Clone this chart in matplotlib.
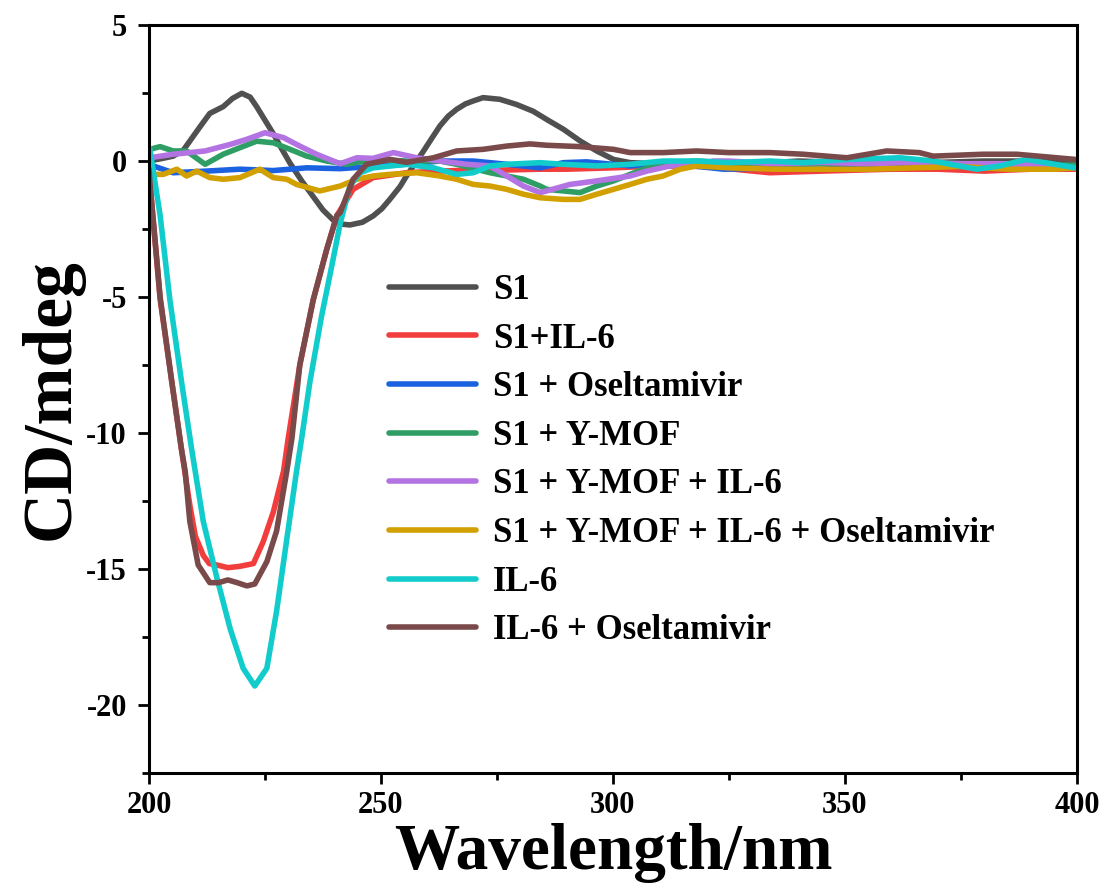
import numpy as np
import matplotlib
matplotlib.use("Agg")
import matplotlib.pyplot as plt
from matplotlib.ticker import MultipleLocator

plt.rcParams['font.family'] = ['Liberation Serif', 'DejaVu Serif']
plt.rcParams['font.weight'] = 'bold'
plt.rcParams['axes.unicode_minus'] = False

# CD spectra (wavelength nm, ellipticity mdeg)
s1_wl = [200, 203, 205.2, 207.4, 211, 213.1, 216, 218, 220, 221.8, 223.2, 225, 226.8, 228.6,
         230.4, 233, 235.4, 237.5, 239.7, 241.5, 243.3, 246, 248.3, 250.2, 251.9, 254.1,
         255.5, 257.3, 259.1, 261, 262.7, 264.5, 266.3, 268.2, 269.9, 272, 275.6, 279.2,
         282.8, 285.7, 289.3, 292.9, 296.5, 300.1, 303.7, 310, 320, 330, 340, 350, 360,
         370, 380, 390, 400]
s1_cd = [0.0, 0.1, 0.18, 0.4, 1.26, 1.75, 2.0, 2.3, 2.49, 2.35, 2.0, 1.5, 1.0, 0.45,
         -0.08, -0.75, -1.31, -1.8, -2.17, -2.32, -2.35, -2.25, -2.02, -1.75, -1.41, -0.94,
         -0.55, -0.1, 0.35, 0.85, 1.29, 1.65, 1.9, 2.1, 2.21, 2.33, 2.27, 2.08,
         1.83, 1.53, 1.17, 0.74, 0.37, 0.06, -0.06, -0.1, -0.05, -0.1, 0.0, -0.05, 0.0,
         -0.05, 0.0, 0.0, -0.05]

s1_il6_wl = [200, 200.2, 202.4, 204.9, 207, 208.8, 210, 211.7, 213, 214.6, 217, 219.6,
             222.5, 224.6, 226.8, 229, 230, 232.5, 235.4, 238.3, 240.5, 244, 248.3, 255.5,
             262.7, 270, 277, 284, 290, 300, 310, 320, 333.8, 345, 360, 370, 380, 390, 400]
s1_il6_cd = [-0.4, -0.8, -5.08, -8.1, -10.6, -12.65, -13.8, -14.5, -14.8, -14.85, -14.95,
             -14.9, -14.8, -14.0, -12.9, -11.4, -10.2, -7.5, -5.1, -3.25, -2.0, -1.04,
             -0.61, -0.43, -0.37, -0.33, -0.33, -0.3, -0.3, -0.25, -0.18, -0.2, -0.43,
             -0.37, -0.3, -0.3, -0.37, -0.3, -0.3]

s1_osel_wl = [200, 200.9, 205.2, 212.4, 219.6, 226.8, 230.4, 234, 241.2, 248, 255.5, 262.7,
              269.9, 277.1, 284.3, 289.3, 294.3, 303.7, 310.8, 323.8, 335, 345, 355, 365,
              375, 385, 395, 400]
s1_osel_cd = [-0.1, -0.18, -0.43, -0.37, -0.3, -0.35, -0.3, -0.25, -0.28, -0.2, -0.12, 0.0,
              0.0, -0.12, -0.25, -0.06, -0.03, -0.18, -0.06, -0.3, -0.25, -0.3, -0.2,
              -0.15, -0.2, -0.1, -0.15, -0.2]

s1_ymof_wl = [200, 200.2, 202.4, 205.2, 208.1, 212.1, 216, 219.6, 223.2, 226.8, 230.4, 234,
              238.3, 242.6, 248.3, 255.5, 262.7, 266.3, 273.5, 277.1, 280.7, 284.3, 285.7,
              292.9, 296.5, 300.1, 303.7, 307.3, 312.3, 318, 325, 335, 345, 355, 365, 375,
              385, 395, 400]
s1_ymof_cd = [0.3, 0.43, 0.53, 0.37, 0.37, -0.12, 0.25, 0.49, 0.73, 0.67, 0.43, 0.18, 0.0,
              -0.12, 0.06, 0.0, 0.0, -0.12, -0.43, -0.55, -0.67, -0.92, -1.04, -1.16, -0.92,
              -0.73, -0.49, -0.25, -0.06, 0.0, -0.06, -0.1, -0.1, -0.05, -0.05, -0.1, -0.1,
              -0.15, -0.15]

s1_ymof_il6_wl = [200, 200.2, 205.2, 208.8, 212.1, 217.5, 221.1, 225, 229, 232.5, 236.1,
                  241.2, 244.8, 248.3, 252.7, 257.7, 262.7, 268.5, 273.5, 277.1, 280.7,
                  284.3, 285.7, 290.7, 296.5, 303.7, 307.3, 312.3, 318, 321.6, 325, 335,
                  345, 355, 365, 375, 385, 395, 400]
s1_ymof_il6_cd = [0.1, 0.12, 0.25, 0.31, 0.37, 0.61, 0.8, 1.04, 0.86, 0.55, 0.25, -0.1,
                  0.12, 0.1, 0.31, 0.12, 0.0, -0.12, -0.18, -0.55, -0.92, -1.16, -1.1,
                  -0.86, -0.73, -0.55, -0.37, -0.18, -0.12, 0.0, 0.0, -0.1, -0.05, -0.1,
                  -0.05, -0.1, -0.1, -0.2, -0.25]

s1_all_wl = [200, 200.9, 203.1, 206, 208.1, 210.3, 213.1, 216, 219.6, 223.9, 226.8, 229.7,
             231.8, 236.8, 241.2, 244.8, 248.3, 251.9, 257.7, 262.7, 266.3, 269.9, 273.5,
             277.1, 280.7, 284.3, 289.3, 292.9, 296.5, 300.1, 303.7, 307.3, 310.8, 314.5,
             318, 325, 335, 345, 355, 365, 375, 385, 395, 400]
s1_all_cd = [-0.4, -0.49, -0.49, -0.3, -0.55, -0.37, -0.61, -0.67, -0.61, -0.3, -0.61,
             -0.67, -0.86, -1.1, -0.92, -0.67, -0.55, -0.49, -0.43, -0.55, -0.67, -0.86,
             -0.92, -1.04, -1.22, -1.35, -1.41, -1.41, -1.22, -1.04, -0.86, -0.67, -0.55,
             -0.3, -0.18, -0.25, -0.3, -0.3, -0.3, -0.25, -0.2, -0.3, -0.3, -0.25]

il6_wl = [200, 200.2, 202.4, 204.5, 207, 209.2, 211.7, 214.6, 217.5, 220.3, 222.8, 225.4,
          227.5, 229.7, 231.8, 232.9, 234.7, 237.2, 239.4, 241.2, 243.3, 245.5, 248.3,
          255.5, 261.3, 266.3, 269.9, 273.5, 277.1, 284.3, 289.3, 296.5, 303.7, 310.8, 318,
          325, 333.8, 341, 350.4, 361.9, 369, 378.4, 383.4, 389.1, 399.6]
il6_cd = [0.5, 0.43, -2.0, -5.1, -8.1, -10.6, -13.25, -15.3, -17.2, -18.65, -19.3, -18.65,
          -16.55, -13.9, -11.4, -10.2, -8.1, -5.7, -3.85, -2.3, -0.92, -0.43, -0.25, -0.12,
          -0.25, -0.49, -0.43, -0.18, -0.12, -0.06, -0.12, -0.18, -0.12, 0.0, 0.0, -0.06,
          0.0, -0.06, 0.06, 0.12, 0.0, -0.3, -0.18, 0.06, -0.25]

il6_osel_wl = [200, 200.2, 202.4, 204.9, 207, 207.8, 208.8, 210.6, 213.1, 215, 217, 219,
               221.1, 222.8, 225.4, 227.5, 229.7, 230.8, 232.5, 235.4, 238.3, 240.5, 241.2,
               244, 246.9, 251.9, 255.5, 261.3, 266.3, 272, 277.1, 282.1, 285.7, 292.9,
               300.1, 303.7, 310.8, 318, 325, 333.8, 341, 350.4, 359, 366, 369, 379.8, 387,
               399.6]
il6_osel_cd = [-0.3, -0.8, -5.0, -8.1, -10.6, -11.4, -13.25, -14.85, -15.5, -15.5, -15.4,
               -15.5, -15.62, -15.55, -14.73, -13.6, -11.4, -10.2, -7.5, -5.1, -3.25, -2.0,
               -1.9, -0.67, -0.12, 0.06, -0.05, 0.12, 0.37, 0.43, 0.55, 0.63, 0.58, 0.53,
               0.43, 0.31, 0.31, 0.37, 0.31, 0.31, 0.25, 0.12, 0.37, 0.31, 0.18, 0.25, 0.25,
               0.06]

series = [
    (s1_wl, s1_cd, 'S1', '#505050'),
    (s1_il6_wl, s1_il6_cd, 'S1+IL-6', '#f23d3d'),
    (s1_osel_wl, s1_osel_cd, 'S1 + Oseltamivir', '#1a62e0'),
    (s1_ymof_wl, s1_ymof_cd, 'S1 + Y-MOF', '#2f9e64'),
    (s1_ymof_il6_wl, s1_ymof_il6_cd, 'S1 + Y-MOF + IL-6', '#b373e3'),
    (s1_all_wl, s1_all_cd, 'S1 + Y-MOF + IL-6 + Oseltamivir', '#d2a000'),
    (il6_wl, il6_cd, 'IL-6', '#12cccc'),
    (il6_osel_wl, il6_osel_cd, 'IL-6 + Oseltamivir', '#7a4a4a'),
]

fig = plt.figure(figsize=(11.02, 8.94), dpi=100)
ax = fig.add_axes([0.1352, 0.1353, 0.8421, 0.8367])

for wl, cd, name, col in series:
    ax.plot(wl, cd, color=col, lw=4.0, label=name,
            solid_joinstyle='round', solid_capstyle='round')

ax.set_xlim(200, 400)
ax.set_ylim(-22.5, 5)
ax.xaxis.set_major_locator(MultipleLocator(50))
ax.xaxis.set_minor_locator(MultipleLocator(25))
ax.yaxis.set_major_locator(MultipleLocator(5))
ax.yaxis.set_minor_locator(MultipleLocator(2.5))
ax.tick_params(which='major', direction='out', length=8, width=2, labelsize=22, pad=8)
ax.tick_params(axis='x', which='major', pad=5)
ax.tick_params(which='minor', direction='out', length=5, width=2)
for lab in ax.get_xticklabels() + ax.get_yticklabels():
    lab.set_fontweight('bold')
for sp in ax.spines.values():
    sp.set_linewidth(2.2)

ax.set_xlabel('Wavelength/nm', fontsize=47, fontweight='bold', labelpad=2)
ax.set_ylabel('CD/mdeg', fontsize=50, fontweight='bold', labelpad=2)

leg = ax.legend(loc='upper left', bbox_to_anchor=(0.225, 0.709), frameon=False,
                prop={'size': 25, 'weight': 'bold'}, handlelength=2.5,
                handletextpad=0.5, labelspacing=0.45)
for ln in leg.get_lines():
    ln.set_linewidth(4.0)

fig.savefig('out.png', dpi=100)
